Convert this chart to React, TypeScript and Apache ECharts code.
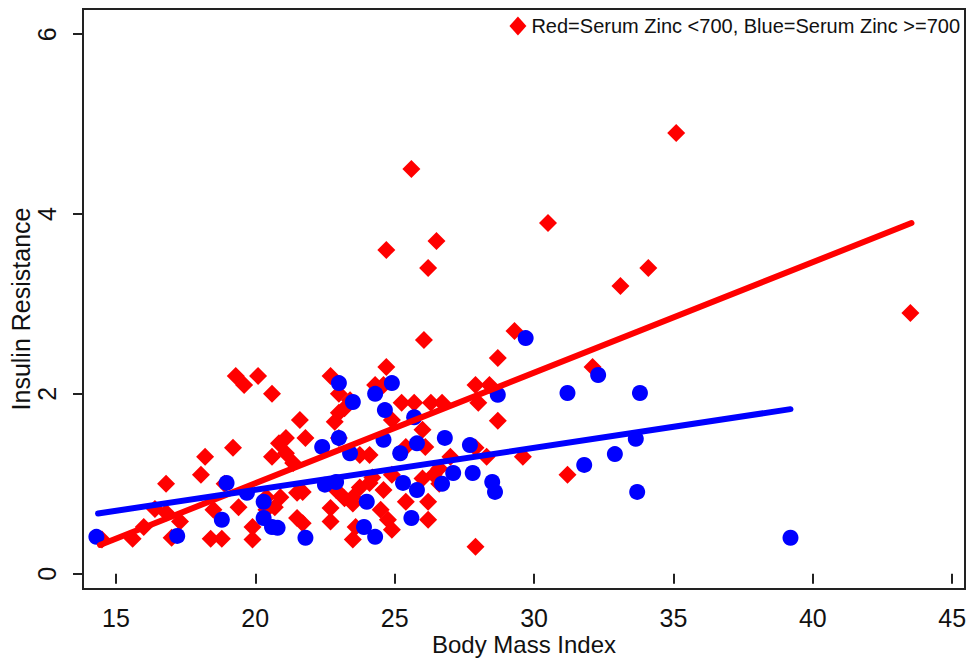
import React, { useEffect, useRef } from "react";
import * as echarts from "echarts";

// Red = Serum Zinc < 700
const redBMI = [
  35.1, 43.5, 25.6, 30.5, 26.5, 24.7, 26.2, 34.1, 33.1, 29.3, 26.05, 32.1, 24.7, 28.7, 31.2, 29.6, 27.9,
  27.9, 28.4, 28.0, 28.7, 26.7, 27.9, 27.0, 28.3, 26.6,
  19.3, 19.6, 20.1, 20.6, 19.2, 18.2, 18.05, 16.8, 18.9, 20.6, 20.85, 16.4, 16.8, 16.0, 15.6, 14.5, 17.0,
  18.4, 18.8, 19.9, 19.9, 17.3, 18.5, 19.4, 20.4,
  22.7, 24.3, 24.6, 23.0, 25.25, 25.7, 26.3, 23.4, 23.2, 23.0, 22.85, 21.6, 24.9, 26.0, 21.1, 21.8, 23.0,
  21.1, 21.36, 23.75, 24.1, 25.4, 26.1, 20.4, 20.9, 20.7, 21.5, 21.7, 22.9, 23.2, 23.5, 23.75, 24.1, 24.6,
  22.7, 23.5, 22.7, 21.5, 21.7, 23.6, 23.5, 24.76, 24.9, 24.5, 25.4, 26.2, 26.2, 26.0, 26.4, 24.2, 24.9, 26.6
];
const redIR = [
  4.9, 2.9, 4.5, 3.9, 3.7, 3.6, 3.4, 3.4, 3.2, 2.7, 2.6, 2.3, 2.3, 2.4, 1.1, 1.3, 0.3,
  2.1, 2.1, 1.9, 1.7, 1.9, 1.4, 1.3, 1.3, 1.0,
  2.2, 2.1, 2.2, 2.0, 1.4, 1.3, 1.1, 1.0, 1.0, 1.3, 1.45, 0.72, 0.68, 0.52, 0.39, 0.38, 0.4,
  0.39, 0.39, 0.38, 0.52, 0.58, 0.71, 0.74, 0.71,
  2.2, 2.1, 2.1, 2.0, 1.9, 1.9, 1.9, 1.93, 1.84, 1.79, 1.69, 1.71, 1.71, 1.6, 1.51, 1.51, 1.51,
  1.34, 1.23, 1.32, 1.32, 1.41, 1.41, 0.85, 0.85, 0.74, 0.9, 0.91, 0.93, 0.84, 0.85, 0.96, 1.01, 0.93,
  0.73, 0.78, 0.58, 0.62, 0.56, 0.52, 0.38, 0.6, 0.49, 0.71, 0.8, 0.8, 0.6, 1.06, 1.1, 1.07, 1.1, 1.17
];

// Blue = Serum Zinc >= 700
const blueBMI = [
  29.7, 32.3, 31.2, 33.8, 28.7, 26.8, 27.7, 33.65, 32.9, 31.8, 27.1, 27.8, 28.5, 28.6, 33.7, 26.7, 39.2,
  14.3, 18.97, 18.8, 17.2, 19.7, 20.3, 20.6, 20.3,
  23.0, 24.3, 24.9, 23.5, 24.65, 25.7, 23.0, 22.4, 24.6, 25.8, 23.4, 25.2, 25.8, 25.3, 24.0, 24.3, 23.9,
  25.6, 21.8, 20.8, 22.5, 22.9
];
const blueIR = [
  2.62, 2.21, 2.01, 2.01, 1.99, 1.51, 1.43, 1.5, 1.33, 1.21, 1.12, 1.12, 1.02, 0.91, 0.91, 1.0, 0.4,
  0.41, 1.01, 0.6, 0.42, 0.9, 0.62, 0.52, 0.8,
  2.12, 2.0, 2.12, 1.91, 1.82, 1.74, 1.51, 1.41, 1.49, 1.45, 1.34, 1.34, 0.93, 1.01, 0.8, 0.41, 0.52,
  0.62, 0.4, 0.51, 0.99, 1.02
];

// Fitted lines (end points)
const redFitBMI = [14.43, 43.54];
const redFitIR = [0.32, 3.9];
const blueFitBMI = [14.36, 39.2];
const blueFitIR = [0.67, 1.83];

const xTicks = [15, 20, 25, 30, 35, 40, 45];
const yTicks = [0, 2, 4, 6];
const legendText = "Red=Serum Zinc <700, Blue=Serum Zinc >=700";

const FONT = "'Liberation Sans', Arial, Helvetica, sans-serif";

const zip = (a: number[], b: number[]) => a.map((v, i) => [v, b[i]]);

export default function App() {
  const ref = useRef<HTMLDivElement>(null);
  useEffect(() => {
    if (!ref.current) return;
    const chart = echarts.init(ref.current, null, { renderer: "svg" });
    chart.setOption({
      animation: false,
      backgroundColor: "#ffffff",
      grid: {
        left: 83,
        right: 2,
        top: 9,
        bottom: 70,
        containLabel: false,
        outerBoundsMode: "none",
        show: true,
        borderColor: "#222",
        borderWidth: 2,
        backgroundColor: "#ffffff",
      },
      legend: {
        data: [{ name: legendText, icon: "diamond" }],
        right: 7,
        top: 16,
        padding: 0,
        itemWidth: 17,
        itemHeight: 19,
        itemGap: 6,
        textStyle: { fontFamily: FONT, fontSize: 20, color: "#111" },
      },
      xAxis: {
        type: "value",
        min: 13.82,
        max: 45.46,
        name: "Body Mass Index",
        nameLocation: "middle",
        nameGap: 45,
        nameMoveOverlap: false,
        nameTextStyle: { fontFamily: FONT, fontSize: 24, lineHeight: 20, color: "#111" },
        axisLine: { show: false },
        splitLine: { show: false },
        axisTick: {
          show: true,
          customValues: xTicks,
          length: 10,
          lineStyle: { color: "#222", width: 2 },
        },
        axisLabel: {
          customValues: xTicks,
          margin: 19,
          fontFamily: FONT,
          fontSize: 25,
          lineHeight: 20,
          color: "#111",
        },
      },
      yAxis: {
        type: "value",
        min: -0.17,
        max: 6.28,
        name: "Insulin Resistance",
        nameLocation: "middle",
        nameGap: 50,
        nameMoveOverlap: false,
        nameRotate: 90,
        nameTextStyle: { fontFamily: FONT, fontSize: 25, color: "#111", padding: [0, 20, 0, 0] },
        axisLine: { show: false },
        splitLine: { show: false },
        axisTick: {
          show: true,
          customValues: yTicks,
          length: 10,
          lineStyle: { color: "#222", width: 2 },
        },
        axisLabel: {
          customValues: yTicks,
          rotate: 90,
          margin: 24,
          fontFamily: FONT,
          fontSize: 25,
          color: "#111",
        },
      },
      series: [
        {
          name: legendText,
          type: "scatter",
          symbol: "diamond",
          symbolSize: 18,
          itemStyle: { color: "#ff0000", opacity: 1 },
          data: zip(redBMI, redIR),
          z: 2,
        },
        {
          name: "blue",
          type: "scatter",
          symbol: "circle",
          symbolSize: 16,
          itemStyle: { color: "#0000ff", opacity: 1 },
          data: zip(blueBMI, blueIR),
          z: 3,
        },
        {
          name: "redFit",
          type: "line",
          showSymbol: false,
          symbol: "none",
          lineStyle: { color: "#ff0000", width: 6, cap: "round" },
          data: zip(redFitBMI, redFitIR),
          z: 4,
        },
        {
          name: "blueFit",
          type: "line",
          showSymbol: false,
          symbol: "none",
          lineStyle: { color: "#0000ff", width: 6, cap: "round" },
          data: zip(blueFitBMI, blueFitIR),
          z: 5,
        },
      ],
    });
    return () => chart.dispose();
  }, []);
  return (
    <div
      ref={ref}
      style={{ position: "absolute", left: 0, top: 0, width: 967, height: 659 }}
    />
  );
}
